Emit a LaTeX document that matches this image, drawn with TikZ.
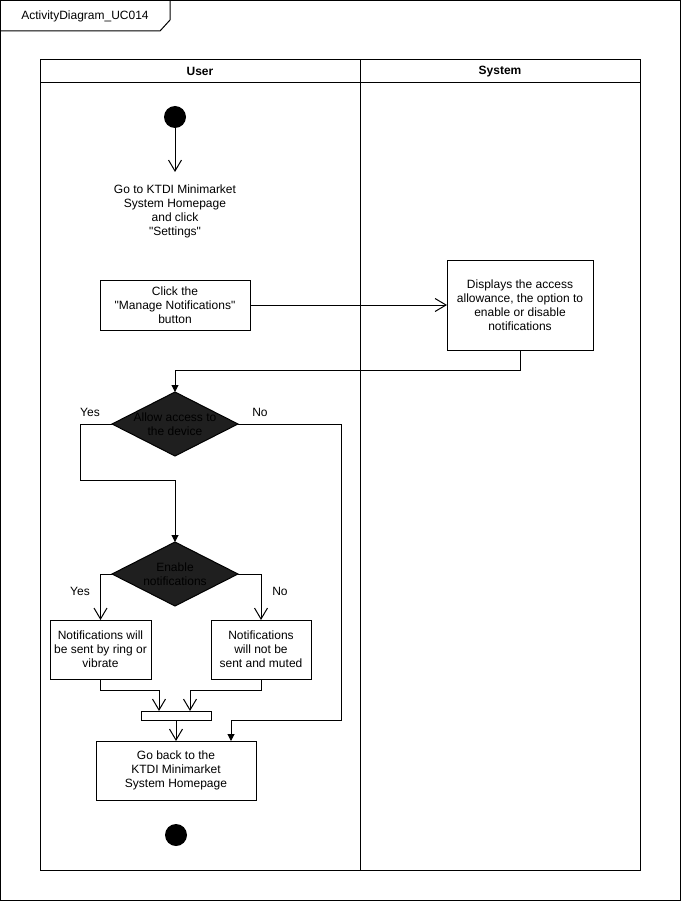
\documentclass[tikz,border=0pt]{standalone}
\usepackage{fontspec}
\setmainfont{Liberation Sans}[Ligatures=TeXOff]
\usetikzlibrary{arrows.meta,shapes.geometric}
\begin{document}
\begin{tikzpicture}[x=1pt,y=-1pt,line width=1pt,
  every node/.style={font=\fontsize{12}{14}\selectfont,inner sep=0pt,outer sep=0pt},
  action/.style={draw,fill=white,align=center},
  decision/.style={draw,diamond,fill=black!88,minimum width=126pt,minimum height=64pt},
  dtext/.style={align=center,text=black},
  dot/.style={circle,fill=black,minimum size=22pt},
  barnode/.style={draw,fill=white,minimum width=70pt,minimum height=9pt},
  lanehead/.style={draw,font=\fontsize{12}{14}\selectfont\bfseries},
  guard/.style={font=\fontsize{12}{14}\selectfont},
  open/.style={-{Straight Barb[length=11pt,width=13pt]}},
  solid/.style={-{Triangle[length=7pt,width=7pt]}}]

\useasboundingbox (0,0) rectangle (681,901);

% outer frame with its name tab
\draw (0.5,0.5) rectangle (680,900);
\draw (0.5,31) -- (160,31) -- (170,20) -- (170,0.5);
\node (frametitle) at (85,16) {ActivityDiagram\_UC014};

% swimlanes
\draw (40,60) rectangle (360,870);
\draw (360,60) rectangle (640,870);
\node[lanehead,minimum width=320pt,minimum height=23pt,anchor=north west] (userhead) at (40,60) {User};
\node[lanehead,minimum width=280pt,minimum height=23pt,anchor=north west] (syshead) at (360,60) {System};

% user lane activities
\node[dot] (start) at (175,117) {};
\node[align=center,minimum height=78pt] (go) at (175,211) {Go to KTDI Minimarket\\System Homepage\\and click\\"Settings"};
\node[action,minimum width=150pt,minimum height=50pt] (click) at (175,305) {Click the\\"Manage Notifications"\\button};

% system lane activity
\node[action,minimum width=146pt,minimum height=90pt] (disp) at (520,305) {Displays the access\\allowance, the option to\\enable or disable\\notifications};

% decisions
\node[decision] (d1) at (175,424) {};
\node[dtext] (d1t) at (d1.center) {Allow access to\\the device};
\node[decision] (d2) at (175,574) {};
\node[dtext] (d2t) at (d2.center) {Enable\\notifications};

\node[action,minimum width=101pt,minimum height=59pt] (ntf1) at (100.5,649.5) {Notifications will\\be sent by ring or\\vibrate};
\node[action,minimum width=100pt,minimum height=59pt] (ntf2) at (261,649.5) {Notifications\\will not be\\sent and muted};

\node[barnode] (bar) at (176,715.5) {};
\node[action,minimum width=160pt,minimum height=59pt] (back) at (176,770.5) {Go back to the\\KTDI Minimarket\\System Homepage};
\node[dot] (end) at (176,835) {};

% guards
\node[guard] (yes1) at (90,412) {Yes};
\node[guard] (no1) at (260,412) {No};
\node[guard] (yes2) at (80,591) {Yes};
\node[guard] (no2) at (280,591) {No};

% bend points
\coordinate (j1) at (175,370);
\coordinate (y1) at (80,480);
\coordinate (n1) at (341,720);
\coordinate (j2) at (159,690);
\coordinate (j3) at (190,690);
\coordinate (nb) at (231,741);

% flows
\draw[open] (start) -- (go.north);
\draw[open] (click.east) -- (disp.west);
\draw[solid] (disp.south) |- (j1) -- (d1.north);
\draw[solid] (d1.west) -| (y1) -| (d2.north);
\draw[solid] (d1.east) -| (n1) -| (nb);
\draw[open] (d2.west) -| (ntf1.north);
\draw[open] (d2.east) -| (ntf2.north);
\draw[open] (ntf1.south) |- (j2) -- (j2 |- bar.north);
\draw[open] (ntf2.south) |- (j3) -- (j3 |- bar.north);
\draw[open] (bar.south) -- (back.north);
\end{tikzpicture}
\end{document}
